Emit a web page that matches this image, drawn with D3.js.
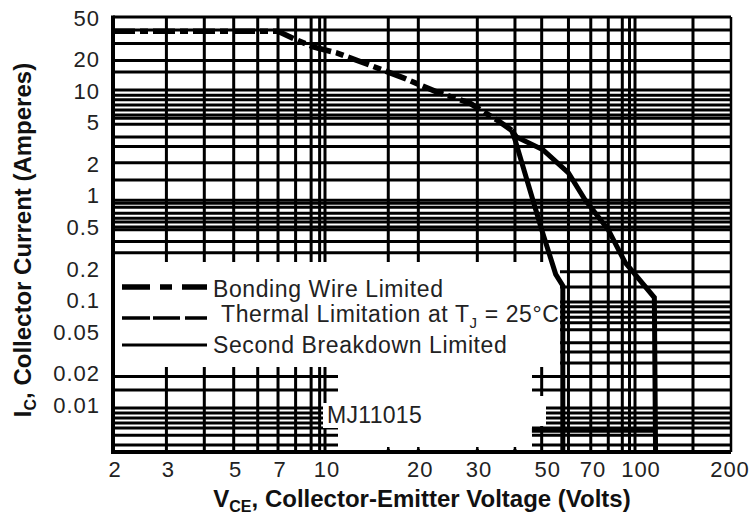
<!DOCTYPE html>
<html>
<head>
<meta charset="utf-8">
<script src="https://cdnjs.cloudflare.com/ajax/libs/d3/7.8.5/d3.min.js"></script>
<style>
body { margin: 0; background: #fff; }
svg text { font-family: "Liberation Sans", Arial, sans-serif; }
</style>
</head>
<body>
<div id="chart"></div>
<script>
// axis ticks
var xTicks = [2, 3, 5, 7, 10, 20, 30, 50, 70, 100, 200];
var yTicks = [50, 20, 10, 5, 2, 1, 0.5, 0.2, 0.1, 0.05, 0.02, 0.01];

// grid lines of the scanned sheet (volts / amperes)
var gridX = [3, 4, 5, 6, 7, 8, 9, 9.6, 10, 16, 20, 31, 41, 50, 61, 72, 82, 91, 96, 100, 152];
var gridY = [39, 29, 20, 15.5, 10.4, 9.3, 8.4, 7.5, 6.7, 6.0, 5.6, 4.9, 3.7, 3.0, 2.1, 1.44,
    0.92, 0.86, 0.79, 0.69, 0.62, 0.57, 0.51, 0.48, 0.37, 0.29, 0.19, 0.136, 0.098, 0.088,
    0.0785, 0.070, 0.062, 0.053, 0.040, 0.0325, 0.0255, 0.019, 0.0141, 0.0095, 0.0085,
    0.0076, 0.0068, 0.0061, 0.0052, 0.0042];

// curves [volts, amperes]
var bondingWire = [[2, 38], [7, 38], [8.06, 31.4], [9.14, 26.9], [10.9, 23.6], [13.9, 18.1],
    [17.9, 13.6], [22.9, 10], [29.2, 7.85], [35.8, 5.4], [40, 4.3]];
var secondBreakdown = [[40, 4.3], [41, 3.5], [50, 0.48], [55.5, 0.18], [58.5, 0.14], [58.5, 0.0037]];
var thermalLimit = [[40, 4.3], [41.5, 3.71], [50.5, 2.79], [61, 1.68], [69, 0.93], [82, 0.48],
    [93, 0.233], [115, 0.108], [116, 0.0037]];
var baseSegment = [[46.5, 0.0058], [116, 0.0058]];

var legendLabels = ["Bonding Wire Limited", "Thermal Limitation at T", "Second Breakdown Limited"];

var width = 749, height = 519;
var pLeft = 113, pRight = 731, pTop = 17, pBottom = 452;

var svg = d3.select("#chart")
    .append("svg")
    .attr("width", width)
    .attr("height", height);

var x = d3.scaleLog()
    .domain([2, 10, 100, 200])
    .range([pLeft, 325, 635, pRight]);
var y = d3.scaleLog()
    .domain([0.0036, 52])
    .range([pBottom, pTop]);

// grid
svg.selectAll("line.gx")
    .data(gridX)
    .enter()
    .append("line")
    .attr("class", "gx")
    .attr("x1", function(d) { return x(d); })
    .attr("x2", function(d) { return x(d); })
    .attr("y1", pTop)
    .attr("y2", pBottom)
    .attr("stroke", "#000")
    .attr("stroke-width", 3);
svg.selectAll("line.gy")
    .data(gridY)
    .enter()
    .append("line")
    .attr("class", "gy")
    .attr("x1", pLeft)
    .attr("x2", pRight)
    .attr("y1", function(d) { return y(d); })
    .attr("y2", function(d) { return y(d); })
    .attr("stroke", "#000")
    .attr("stroke-width", 3);

// white patches where the sheet has the legend and part label
var masks = [[115, 262, 560, 367], [338, 367, 532, 449], [532, 396, 546, 426], [323, 403, 338, 428]];
svg.selectAll("rect.mask")
    .data(masks)
    .enter()
    .append("rect")
    .attr("class", "mask")
    .attr("x", function(d) { return d[0]; })
    .attr("y", function(d) { return d[1]; })
    .attr("width", function(d) { return d[2] - d[0]; })
    .attr("height", function(d) { return d[3] - d[1]; })
    .attr("fill", "#fff");

// little stubs left on the bottom edge
svg.selectAll("line.stub")
    .data(gridX.filter(function(d) { return x(d) > 340 && x(d) < 530; }))
    .enter()
    .append("line")
    .attr("x1", function(d) { return x(d); })
    .attr("x2", function(d) { return x(d); })
    .attr("y1", pBottom - 5)
    .attr("y2", pBottom)
    .attr("stroke", "#000")
    .attr("stroke-width", 2.5);

// frame
svg.append("line").attr("x1", pLeft).attr("x2", pRight).attr("y1", pTop).attr("y2", pTop)
    .attr("stroke", "#000").attr("stroke-width", 3);
svg.append("line").attr("x1", pRight).attr("x2", pRight).attr("y1", pTop).attr("y2", pBottom)
    .attr("stroke", "#000").attr("stroke-width", 2.5);
svg.append("line").attr("x1", pLeft).attr("x2", pLeft).attr("y1", pTop - 1.5).attr("y2", pBottom + 2)
    .attr("stroke", "#000").attr("stroke-width", 4);
svg.append("line").attr("x1", pLeft).attr("x2", pRight).attr("y1", pBottom).attr("y2", pBottom)
    .attr("stroke", "#000").attr("stroke-width", 4);

// curves
var line = d3.line()
    .x(function(d) { return x(d[0]); })
    .y(function(d) { return y(d[1]); });

svg.append("path")
    .attr("d", line(bondingWire))
    .attr("fill", "none")
    .attr("stroke", "#000")
    .attr("stroke-width", 5.5)
    .attr("stroke-dasharray", "22,5,8,5");
[secondBreakdown, thermalLimit].forEach(function(c) {
    svg.append("path")
        .attr("d", line(c))
        .attr("fill", "none")
        .attr("stroke", "#000")
        .attr("stroke-width", 5);
});
svg.append("path")
    .attr("d", line(baseSegment))
    .attr("fill", "none")
    .attr("stroke", "#000")
    .attr("stroke-width", 5);

// legend
var legendStyles = [
    {y: 287, w: 5.5, dash: "28,10,12,10"},
    {y: 318, w: 3.5, dash: "28,3,27,5"},
    {y: 345, w: 3, dash: null}
];
legendStyles.forEach(function(s) {
    svg.append("line")
        .attr("x1", 122).attr("x2", 207)
        .attr("y1", s.y).attr("y2", s.y)
        .attr("stroke", "#000")
        .attr("stroke-width", s.w)
        .attr("stroke-dasharray", s.dash);
});
var legendText = svg.selectAll("text.leg")
    .data(legendLabels)
    .enter()
    .append("text")
    .attr("class", "leg")
    .attr("x", function(d, i) { return i === 1 ? 221 : 213; })
    .attr("y", function(d, i) { return [297, 322, 353][i]; })
    .attr("font-size", 23)
    .attr("letter-spacing", 0.6)
    .attr("fill", "#222")
    .text(function(d) { return d; });
var thermalText = d3.select(legendText.nodes()[1]);
thermalText.append("tspan").attr("font-size", 15).attr("dy", 6).text("J");
thermalText.append("tspan").attr("dy", -6).text(" = 25°C");

svg.append("text")
    .attr("x", 327)
    .attr("y", 423)
    .attr("font-size", 23)
    .attr("letter-spacing", 0.3)
    .attr("fill", "#222")
    .text("MJ11015");

// tick labels
svg.selectAll("text.xt")
    .data(xTicks)
    .enter()
    .append("text")
    .attr("class", "xt")
    .attr("x", function(d) { return d === 200 ? 730 : x(d) + (d >= 30 ? 6 : 2); })
    .attr("y", 477)
    .attr("text-anchor", "middle")
    .attr("font-size", 22)
    .attr("letter-spacing", 1)
    .attr("fill", "#222")
    .text(function(d) { return d; });
svg.selectAll("text.yt")
    .data(yTicks)
    .enter()
    .append("text")
    .attr("class", "yt")
    .attr("x", 100)
    .attr("y", function(d) { return y(d) + 7; })
    .attr("text-anchor", "end")
    .attr("font-size", 22)
    .attr("letter-spacing", 1)
    .attr("fill", "#222")
    .text(function(d) { return d; });

// axis titles
var xt = svg.append("text")
    .attr("x", 422)
    .attr("y", 507)
    .attr("text-anchor", "middle")
    .attr("font-size", 24)
    .attr("font-weight", "bold")
    .attr("fill", "#111");
xt.append("tspan").text("V");
xt.append("tspan").attr("font-size", 16).attr("dy", 5).text("CE");
xt.append("tspan").attr("dy", -5).text(", Collector-Emitter Voltage (Volts)");

var yt = svg.append("text")
    .attr("transform", "translate(31,240) rotate(-90)")
    .attr("text-anchor", "middle")
    .attr("font-size", 24)
    .attr("font-weight", "bold")
    .attr("fill", "#111");
yt.append("tspan").text("I");
yt.append("tspan").attr("font-size", 16).attr("dy", 5).text("C");
yt.append("tspan").attr("dy", -5).text(", Collector Current (Amperes)");
</script>
</body>
</html>
